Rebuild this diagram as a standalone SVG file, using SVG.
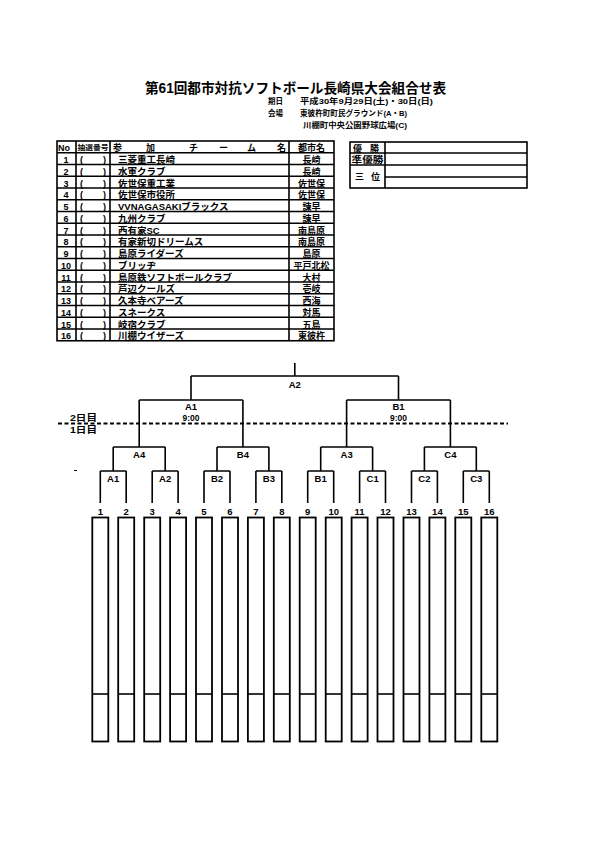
<svg xmlns="http://www.w3.org/2000/svg" width="595" height="842" viewBox="0 0 595 842">
<style>
text{font-family:"Liberation Sans","Noto Sans CJK JP",sans-serif;font-weight:bold;fill:#000}
.t{font-size:14px}
.i{font-size:7.5px}
.n{font-size:9px;text-anchor:middle}
.nm{font-size:9.5px}
.c{font-size:9px;text-anchor:middle}
.p{font-size:9px}
.l{font-size:9.5px;text-anchor:middle}
.s{font-size:8.5px;text-anchor:middle}
.ln{stroke:#000;stroke-width:1.6;fill:none}
.bx{stroke:#000;stroke-width:1.8;fill:#fff}
</style>
<rect width="595" height="842" fill="#fff"/>
<g id="title">
<text class="t" x="145" y="93" textLength="301" lengthAdjust="spacingAndGlyphs">第61回都市対抗ソフトボール長崎県大会組合せ表</text>
<text class="i" x="268" y="104">期日</text>
<text class="i" x="300" y="104" textLength="133" lengthAdjust="spacingAndGlyphs">平成30年9月29日(土)・30日(日)</text>
<text class="i" x="268" y="116">会場</text>
<text class="i" x="300" y="116" textLength="107" lengthAdjust="spacingAndGlyphs">東彼杵町町民グラウンド(A・B)</text>
<text class="i" x="303" y="128" textLength="104" lengthAdjust="spacingAndGlyphs">川棚町中央公園野球広場(C)</text>
</g>
<g id="team-table">
<rect class="ln" x="57" y="141" width="277" height="199.75"/>
<path class="ln" d="M76 141V340.75M110 141V340.75M289 141V340.75"/>
<path class="ln" d="M57 152.75H334M57 164.5H334M57 176.25H334M57 188H334M57 199.75H334M57 211.5H334M57 223.25H334M57 235H334M57 246.75H334M57 258.5H334M57 270.25H334M57 282H334M57 293.75H334M57 305.5H334M57 317.25H334M57 329H334"/>
<text class="p" x="58" y="150.5">No</text>
<text x="77.5" y="150" style="font-size:6.3px" textLength="31" lengthAdjust="spacingAndGlyphs">抽選番号</text>
<text class="p" x="113" y="150.5">参</text>
<text class="p" x="146" y="150.5">加</text>
<text class="p" x="189" y="150.5">チ</text>
<text class="p" x="219" y="150.5">ー</text>
<text class="p" x="247" y="150.5">ム</text>
<text class="p" x="277" y="150.5">名</text>
<text class="c" x="311.5" y="150.5">都市名</text>
</g>
<g id="team-rows">
<text class="n" x="66" y="163">1</text><text class="p" x="80" y="163">(</text><text class="p" x="103" y="163">)</text><text class="nm" x="118" y="163">三菱重工長崎</text><text class="c" x="311.5" y="163">長崎</text>
<text class="n" x="66" y="174.75">2</text><text class="p" x="80" y="174.75">(</text><text class="p" x="103" y="174.75">)</text><text class="nm" x="118" y="174.75">水軍クラブ</text><text class="c" x="311.5" y="174.75">長崎</text>
<text class="n" x="66" y="186.5">3</text><text class="p" x="80" y="186.5">(</text><text class="p" x="103" y="186.5">)</text><text class="nm" x="118" y="186.5">佐世保重工業</text><text class="c" x="311.5" y="186.5">佐世保</text>
<text class="n" x="66" y="198.25">4</text><text class="p" x="80" y="198.25">(</text><text class="p" x="103" y="198.25">)</text><text class="nm" x="118" y="198.25">佐世保市役所</text><text class="c" x="311.5" y="198.25">佐世保</text>
<text class="n" x="66" y="210">5</text><text class="p" x="80" y="210">(</text><text class="p" x="103" y="210">)</text><text class="nm" x="118" y="210">VVNAGASAKIブラックス</text><text class="c" x="311.5" y="210">諫早</text>
<text class="n" x="66" y="221.75">6</text><text class="p" x="80" y="221.75">(</text><text class="p" x="103" y="221.75">)</text><text class="nm" x="118" y="221.75">九州クラブ</text><text class="c" x="311.5" y="221.75">諫早</text>
<text class="n" x="66" y="233.5">7</text><text class="p" x="80" y="233.5">(</text><text class="p" x="103" y="233.5">)</text><text class="nm" x="118" y="233.5">西有家SC</text><text class="c" x="311.5" y="233.5">南島原</text>
<text class="n" x="66" y="245.25">8</text><text class="p" x="80" y="245.25">(</text><text class="p" x="103" y="245.25">)</text><text class="nm" x="118" y="245.25">有家新切ドリームス</text><text class="c" x="311.5" y="245.25">南島原</text>
<text class="n" x="66" y="257">9</text><text class="p" x="80" y="257">(</text><text class="p" x="103" y="257">)</text><text class="nm" x="118" y="257">島原ライダーズ</text><text class="c" x="311.5" y="257">島原</text>
<text class="n" x="66" y="268.75">10</text><text class="p" x="80" y="268.75">(</text><text class="p" x="103" y="268.75">)</text><text class="nm" x="118" y="268.75">ブリッヂ</text><text class="c" x="311.5" y="268.75">平戸北松</text>
<text class="n" x="66" y="280.5">11</text><text class="p" x="80" y="280.5">(</text><text class="p" x="103" y="280.5">)</text><text class="nm" x="118" y="280.5">島原鉄ソフトボールクラブ</text><text class="c" x="311.5" y="280.5">大村</text>
<text class="n" x="66" y="292.25">12</text><text class="p" x="80" y="292.25">(</text><text class="p" x="103" y="292.25">)</text><text class="nm" x="118" y="292.25">芦辺クールズ</text><text class="c" x="311.5" y="292.25">壱岐</text>
<text class="n" x="66" y="304">13</text><text class="p" x="80" y="304">(</text><text class="p" x="103" y="304">)</text><text class="nm" x="118" y="304">久本寺ベアーズ</text><text class="c" x="311.5" y="304">西海</text>
<text class="n" x="66" y="315.75">14</text><text class="p" x="80" y="315.75">(</text><text class="p" x="103" y="315.75">)</text><text class="nm" x="118" y="315.75">スネークス</text><text class="c" x="311.5" y="315.75">対馬</text>
<text class="n" x="66" y="327.5">15</text><text class="p" x="80" y="327.5">(</text><text class="p" x="103" y="327.5">)</text><text class="nm" x="118" y="327.5">岐宿クラブ</text><text class="c" x="311.5" y="327.5">五島</text>
<text class="n" x="66" y="339.25">16</text><text class="p" x="80" y="339.25">(</text><text class="p" x="103" y="339.25">)</text><text class="nm" x="118" y="339.25">川棚ウイザーズ</text><text class="c" x="311.5" y="339.25">東彼杵</text>
</g>
<g id="results">
<rect class="ln" x="350" y="142" width="177" height="46"/>
<path class="ln" d="M385 142V188M350 153H527M350 165H527M385 177H527"/>
<text class="p" x="353" y="151.5">優</text><text class="p" x="370" y="151.5">勝</text>
<text class="p" x="351.5" y="163" textLength="32" lengthAdjust="spacingAndGlyphs">準優勝</text>
<text class="p" x="355" y="180">三</text><text class="p" x="371" y="180">位</text>
</g>
<g id="connectors">
<path class="ln" d="M294.8 363V376M191 376H398.5M191 376V400M398.5 376V400"/>
<path class="ln" d="M139.2 400H242.9M346.6 400H450.4M139.2 400V447M242.9 400V447M346.6 400V447M450.4 400V447"/>
<path class="ln" d="M113.2 447H165.2M217 447H268.9M320.7 447H372.6M424.4 447H476.3"/>
<path class="ln" d="M113.2 447V471M165.2 447V471M217 447V471M268.9 447V471M320.7 447V471M372.6 447V471M424.4 447V471M476.3 447V471"/>
<path class="ln" d="M100.3 471H126.2M152.2 471H178.1M204 471H230M255.9 471H281.8M307.7 471H333.7M359.6 471H385.5M411.5 471H437.4M463.3 471H489.3"/>
<path class="ln" d="M100.3 471V503M126.2 471V503M152.2 471V503M178.1 471V503M204 471V503M230 471V503M255.9 471V503M281.8 471V503M307.7 471V503M333.7 471V503M359.6 471V503M385.5 471V503M411.5 471V503M437.4 471V503M463.3 471V503M489.3 471V503"/>
<path d="M58 423.5H508" stroke="#000" stroke-width="1.8" stroke-dasharray="4 2.5"/>
<path d="M74 470.5H77" stroke="#000" stroke-width="1"/>
</g>
<g id="labels">
<text class="l" x="294.8" y="387.5">A2</text>
<text class="l" x="191" y="410">A1</text><text class="s" x="191" y="421">9:00</text>
<text class="l" x="398.5" y="410">B1</text><text class="s" x="398.5" y="421">9:00</text>
<text x="70" y="421" style="font-size:9px" textLength="27" lengthAdjust="spacingAndGlyphs">2日目</text>
<text x="70" y="433" style="font-size:9px" textLength="27" lengthAdjust="spacingAndGlyphs">1日目</text>
<text class="l" x="139.2" y="458">A4</text><text class="l" x="242.9" y="458">B4</text><text class="l" x="346.6" y="458">A3</text><text class="l" x="450.4" y="458">C4</text>
<text class="l" x="113.2" y="481.5">A1</text><text class="l" x="165.2" y="481.5">A2</text><text class="l" x="217" y="481.5">B2</text><text class="l" x="268.9" y="481.5">B3</text>
<text class="l" x="320.7" y="481.5">B1</text><text class="l" x="372.6" y="481.5">C1</text><text class="l" x="424.4" y="481.5">C2</text><text class="l" x="476.3" y="481.5">C3</text>
<g class="num">
<text class="l" x="100.3" y="515">1</text><text class="l" x="126.2" y="515">2</text><text class="l" x="152.2" y="515">3</text><text class="l" x="178.1" y="515">4</text>
<text class="l" x="204" y="515">5</text><text class="l" x="230" y="515">6</text><text class="l" x="255.9" y="515">7</text><text class="l" x="281.8" y="515">8</text>
<text class="l" x="307.7" y="515">9</text><text class="l" x="333.7" y="515">10</text><text class="l" x="359.6" y="515">11</text><text class="l" x="385.5" y="515">12</text>
<text class="l" x="411.5" y="515">13</text><text class="l" x="437.4" y="515">14</text><text class="l" x="463.3" y="515">15</text><text class="l" x="489.3" y="515">16</text>
</g>
</g>
<g id="entry-boxes">
<g id="box1"><rect class="bx" x="92.3" y="517.5" width="16" height="224"/><path class="ln" d="M92.3 694H108.3"/></g>
<g id="box2"><rect class="bx" x="118.2" y="517.5" width="16" height="224"/><path class="ln" d="M118.2 694H134.2"/></g>
<g id="box3"><rect class="bx" x="144.2" y="517.5" width="16" height="224"/><path class="ln" d="M144.2 694H160.2"/></g>
<g id="box4"><rect class="bx" x="170.1" y="517.5" width="16" height="224"/><path class="ln" d="M170.1 694H186.1"/></g>
<g id="box5"><rect class="bx" x="196" y="517.5" width="16" height="224"/><path class="ln" d="M196 694H212"/></g>
<g id="box6"><rect class="bx" x="222" y="517.5" width="16" height="224"/><path class="ln" d="M222 694H238"/></g>
<g id="box7"><rect class="bx" x="247.9" y="517.5" width="16" height="224"/><path class="ln" d="M247.9 694H263.9"/></g>
<g id="box8"><rect class="bx" x="273.8" y="517.5" width="16" height="224"/><path class="ln" d="M273.8 694H289.8"/></g>
<g id="box9"><rect class="bx" x="299.7" y="517.5" width="16" height="224"/><path class="ln" d="M299.7 694H315.7"/></g>
<g id="box10"><rect class="bx" x="325.7" y="517.5" width="16" height="224"/><path class="ln" d="M325.7 694H341.7"/></g>
<g id="box11"><rect class="bx" x="351.6" y="517.5" width="16" height="224"/><path class="ln" d="M351.6 694H367.6"/></g>
<g id="box12"><rect class="bx" x="377.5" y="517.5" width="16" height="224"/><path class="ln" d="M377.5 694H393.5"/></g>
<g id="box13"><rect class="bx" x="403.5" y="517.5" width="16" height="224"/><path class="ln" d="M403.5 694H419.5"/></g>
<g id="box14"><rect class="bx" x="429.4" y="517.5" width="16" height="224"/><path class="ln" d="M429.4 694H445.4"/></g>
<g id="box15"><rect class="bx" x="455.3" y="517.5" width="16" height="224"/><path class="ln" d="M455.3 694H471.3"/></g>
<g id="box16"><rect class="bx" x="481.3" y="517.5" width="16" height="224"/><path class="ln" d="M481.3 694H497.3"/></g>
</g>
</svg>
